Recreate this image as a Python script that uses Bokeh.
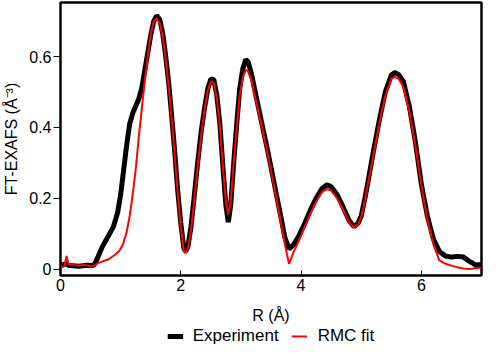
from bokeh.plotting import figure
from bokeh.models import Range1d, FixedTicker, Legend, LegendItem
from bokeh.layouts import column
from bokeh.embed import file_html
from bokeh.resources import INLINE

# Experiment (black)
exp_r = [0.02, 0.08, 0.15, 0.3, 0.45, 0.55, 0.6, 0.7, 0.8, 0.88, 0.95, 1.0, 1.05, 1.1, 1.15, 1.2,
         1.25, 1.3, 1.35, 1.4, 1.45, 1.5, 1.55, 1.6, 1.65, 1.7, 1.75, 1.8, 1.85, 1.9, 1.95, 2.0,
         2.05, 2.08, 2.12, 2.17, 2.22, 2.28, 2.34, 2.4, 2.45, 2.5, 2.55, 2.6, 2.65, 2.7, 2.75,
         2.79, 2.83, 2.88, 2.93, 2.98, 3.03, 3.08, 3.12, 3.17, 3.25, 3.35, 3.45, 3.55, 3.65,
         3.73, 3.8, 3.88, 3.95, 4.05, 4.15, 4.25, 4.35, 4.43, 4.5, 4.6, 4.7, 4.8, 4.88, 4.95,
         5.0, 5.05, 5.1, 5.2, 5.3, 5.4, 5.5, 5.56, 5.62, 5.7, 5.8, 5.9, 6.0, 6.1, 6.2, 6.3,
         6.4, 6.5, 6.6, 6.7, 6.8, 6.9, 7.0]
exp_v = [0.01, 0.015, 0.01, 0.008, 0.011, 0.01, 0.025, 0.065, 0.095, 0.12, 0.16, 0.21, 0.28,
         0.35, 0.41, 0.44, 0.46, 0.48, 0.51, 0.56, 0.61, 0.66, 0.70, 0.716, 0.705, 0.665, 0.60,
         0.525, 0.43, 0.33, 0.22, 0.13, 0.06, 0.05, 0.065, 0.12, 0.20, 0.30, 0.39, 0.46, 0.51,
         0.537, 0.535, 0.49, 0.41, 0.29, 0.18, 0.133, 0.18, 0.30, 0.41, 0.51, 0.565, 0.592,
         0.585, 0.555, 0.49, 0.41, 0.33, 0.245, 0.16, 0.09, 0.057, 0.07, 0.09, 0.125, 0.165,
         0.20, 0.228, 0.238, 0.233, 0.21, 0.175, 0.137, 0.12, 0.13, 0.15, 0.19, 0.235, 0.33,
         0.42, 0.50, 0.548, 0.555, 0.55, 0.53, 0.46, 0.36, 0.24, 0.15, 0.085, 0.05, 0.037,
         0.034, 0.036, 0.034, 0.022, 0.012, 0.013]

# RMC fit (red)
fit_r = [0.02, 0.07, 0.1, 0.13, 0.2, 0.3, 0.4, 0.5, 0.55, 0.62, 0.7, 0.8, 0.9, 0.98, 1.04, 1.1,
         1.15, 1.2, 1.25, 1.3, 1.35, 1.4, 1.45, 1.5, 1.55, 1.6, 1.65, 1.7, 1.75, 1.8, 1.85, 1.9,
         1.95, 2.0, 2.05, 2.08, 2.12, 2.17, 2.22, 2.28, 2.34, 2.4, 2.45, 2.5, 2.55, 2.6, 2.65,
         2.7, 2.75, 2.79, 2.83, 2.88, 2.93, 2.98, 3.03, 3.08, 3.12, 3.17, 3.25, 3.35, 3.45,
         3.55, 3.65, 3.73, 3.8, 3.88, 3.95, 4.05, 4.15, 4.25, 4.35, 4.43, 4.5, 4.6, 4.7, 4.8,
         4.88, 4.95, 5.0, 5.05, 5.1, 5.2, 5.3, 5.4, 5.5, 5.56, 5.62, 5.7, 5.8, 5.9, 6.0, 6.1,
         6.2, 6.3, 6.4, 6.5, 6.6, 6.7, 6.8, 6.9, 7.0]
fit_v = [0.005, 0.01, 0.037, 0.015, 0.012, 0.01, 0.012, 0.009, 0.008, 0.017, 0.022, 0.028,
         0.04, 0.052, 0.07, 0.105, 0.15, 0.21, 0.28, 0.37, 0.45, 0.53, 0.60, 0.665, 0.70,
         0.708, 0.695, 0.655, 0.59, 0.515, 0.42, 0.32, 0.21, 0.12, 0.05, 0.045, 0.06, 0.11,
         0.19, 0.29, 0.38, 0.455, 0.505, 0.53, 0.525, 0.48, 0.40, 0.29, 0.19, 0.155, 0.19,
         0.30, 0.40, 0.49, 0.54, 0.563, 0.558, 0.535, 0.475, 0.40, 0.32, 0.235, 0.145, 0.07,
         0.015, 0.05, 0.075, 0.115, 0.155, 0.19, 0.218, 0.226, 0.222, 0.20, 0.167, 0.133,
         0.117, 0.127, 0.148, 0.185, 0.23, 0.32, 0.41, 0.49, 0.537, 0.543, 0.538, 0.515,
         0.445, 0.35, 0.235, 0.14, 0.07, 0.025, 0.015, 0.01, 0.005, 0.002, 0.0, 0.003, 0.004]

series_names = ["Experiment", "RMC fit"]
x_ticks = [0, 2, 4, 6]
y_ticks = [0, 0.2, 0.4, 0.6]
y_tick_labels = {0: "0", 0.2: "0.2", 0.4: "0.4", 0.6: "0.6"}

FONT = "Liberation Sans"
BLACK_W, RED_W = 5, 2
NAN = float("nan")

p = figure(width=484, height=326, output_backend="svg", toolbar_location=None,
           x_range=Range1d(0, 7), y_range=Range1d(-0.018, 0.753),
           min_border_top=2, min_border_right=3, min_border_left=10, min_border_bottom=10)

p.grid.visible = False
p.outline_line_color = "black"
p.outline_line_width = 2.5
p.background_fill_color = "white"
p.border_fill_color = "white"

p.line(exp_r, exp_v, line_color="black", line_width=BLACK_W)
p.line(fit_r, fit_v, line_color="red", line_width=RED_W)

xa = p.xaxis[0]
xa.ticker = FixedTicker(ticks=x_ticks)
xa.minor_tick_line_color = None
xa.major_tick_in = 5
xa.major_tick_out = 0
xa.major_tick_line_width = 1
xa.axis_line_color = None
xa.major_label_standoff = 3
xa.major_label_text_font = FONT
xa.major_label_text_font_size = "16px"
xa.major_label_text_color = "black"
xa.axis_label = "R (Å)"
xa.axis_label_text_font = FONT
xa.axis_label_text_font_size = "16px"
xa.axis_label_text_font_style = "normal"
xa.axis_label_text_color = "black"
xa.axis_label_standoff = 13

ya = p.yaxis[0]
ya.ticker = FixedTicker(ticks=y_ticks)
ya.major_label_overrides = y_tick_labels
ya.minor_tick_line_color = None
ya.major_tick_in = 0
ya.major_tick_out = 7
ya.major_tick_line_width = 1
ya.axis_line_color = None
ya.major_label_standoff = 2
ya.major_label_text_font = FONT
ya.major_label_text_font_size = "16px"
ya.major_label_text_color = "black"
ya.axis_label = "FT-EXAFS (Å⁻³)"
ya.axis_label_text_font = FONT
ya.axis_label_text_font_size = "16px"
ya.axis_label_text_font_style = "normal"
ya.axis_label_text_color = "black"
ya.axis_label_standoff = 6

# Legend strip below the chart (legend keys only, no data drawn)
q = figure(width=484, height=20, output_backend="svg", toolbar_location=None,
           x_range=Range1d(0, 1), y_range=Range1d(0, 1),
           min_border=0)
q.axis.visible = False
q.grid.visible = False
q.outline_line_color = None
q.border_fill_color = "white"
k_exp = q.line([NAN], [NAN], line_color="black", line_width=BLACK_W)
k_fit = q.line([NAN], [NAN], line_color="red", line_width=RED_W)

legend = Legend(items=[LegendItem(label=series_names[0], renderers=[k_exp]),
                       LegendItem(label=series_names[1], renderers=[k_fit])],
                orientation="horizontal", location="center",
                label_text_font=FONT, label_text_font_size="17px",
                label_text_color="black", label_height=16,
                glyph_width=16, glyph_height=16, label_standoff=10, spacing=13,
                padding=2, margin=0, border_line_color=None,
                background_fill_alpha=0)
q.add_layout(legend, "center")

layout = column(p, q, spacing=0)
open("out.html", "w").write(file_html(layout, INLINE))
